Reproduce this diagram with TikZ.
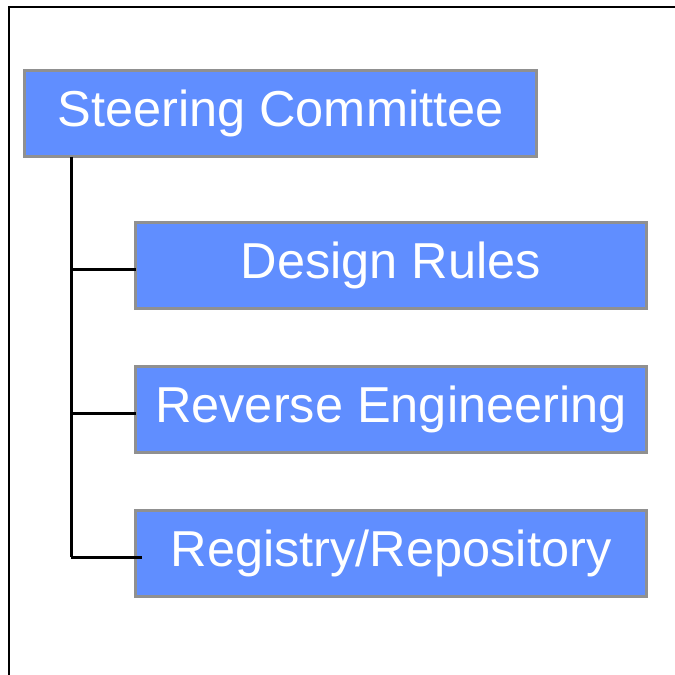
\documentclass[tikz,border=0pt]{standalone}
\usepackage{fontspec}
\setmainfont{Liberation Sans}
\definecolor{boxblue}{HTML}{608EFF}
\definecolor{boxgray}{HTML}{909090}
\begin{document}
\begin{tikzpicture}[x=1pt,y=-1pt,
  orgbox/.style={draw=boxgray, line width=3pt, fill=boxblue, text=white, font=\fontsize{50.5}{56}\selectfont, inner sep=0pt, outer sep=0pt, anchor=north west, minimum height=86pt},
  link/.style={line width=3pt, black}]
\useasboundingbox (0,0) rectangle (675,675);
\draw[line width=2.2pt] (9,675) -- (9,7) -- (675,7);
\node[orgbox, minimum width=512pt] (sc) at (24.5,70.5) {Steering Committee\hspace{8pt}};
\node[orgbox, minimum width=511pt] (dr) at (135.5,222.5) {Design Rules};
\node[orgbox, minimum width=511pt] (re) at (135.5,366.5) {Reverse Engineering};
\node[orgbox, minimum width=511pt] (rr) at (135.5,510.5) {Registry/Repository};
\coordinate (trunktop) at (71,0 |- sc.south);
\coordinate (j1) at (71,269);
\coordinate (j2) at (71,413);
\coordinate (j3) at (71,557);
\draw[link] (trunktop) -- (j3);
\draw[link] (j1) -- (j1 -| dr.west);
\draw[link] (j2) -- (j2 -| re.west);
\draw[link] (j3) -- ([xshift=6pt]j3 -| rr.west);
\end{tikzpicture}
\end{document}
